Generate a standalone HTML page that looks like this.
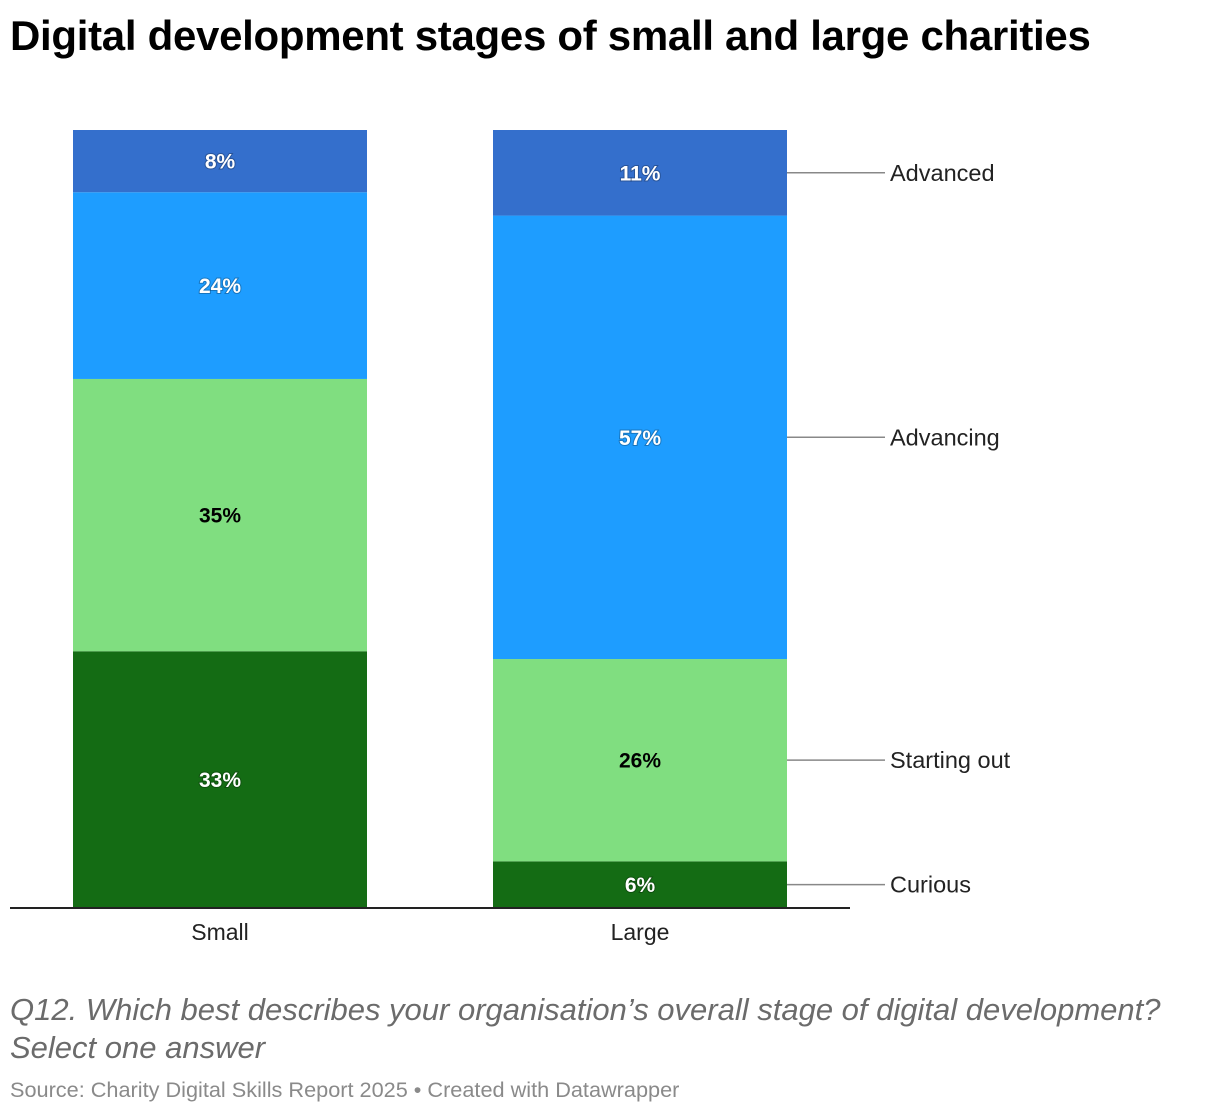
<!DOCTYPE html>
<html><head><meta charset="utf-8"><style>
body{margin:0;background:#fff;font-family:"Liberation Sans",Arial,sans-serif;}
.wrap{position:relative;width:1220px;height:1114px;overflow:hidden;}
h1{position:absolute;left:10px;top:12px;margin:0;font-size:42px;font-weight:bold;color:#000;letter-spacing:-0.3px;}
.q{position:absolute;left:10px;top:991px;font-size:31px;font-style:italic;color:#6b6b6b;line-height:38px;}
.src{position:absolute;left:10px;top:1077px;font-size:21.7px;color:#8a8a8a;}
</style></head><body><div class="wrap">
<h1>Digital development stages of small and large charities</h1>
<svg id="c" width="1220" height="1114" style="position:absolute;left:0;top:0"></svg>
<div class="q">Q12. Which best describes your organisation’s overall stage of digital development?<br>Select one answer</div>
<div class="src">Source: Charity Digital Skills Report 2025 • Created with Datawrapper</div>
</div>
<script>
const categories=["Small","Large"];
const stages=["Curious","Starting out","Advancing","Advanced"];
const curious=[33,6];
const startingOut=[35,26];
const advancing=[24,57];
const advanced=[8,11];
const series=[curious,startingOut,advancing,advanced];
const colors=["#146c14","#80de80","#1e9dff","#346fcc"];
const textColors=["#fff","#000","#fff","#fff"];
const NS="http://www.w3.org/2000/svg";
const svg=document.getElementById('c');
const y0=908,y1=130,barW=294,xs=[73,493];
const y=v=>y0-(y0-y1)*v/100;
function mk(t,a){const e=document.createElementNS(NS,t);for(const k in a)e.setAttribute(k,a[k]);svg.appendChild(e);return e;}
categories.forEach((cat,i)=>{
  let cum=0;
  series.forEach((s,j)=>{
    const v=s[i];const top=y(cum+v),bot=y(cum);
    const r=mk('rect',{x:xs[i],y:top,width:barW,height:bot-top,fill:colors[j]});
    
    
    const t=mk('text',{x:xs[i]+barW/2,y:(top+bot)/2+7.5,'text-anchor':'middle','font-size':'21','font-weight':'bold',fill:textColors[j]});
    if(textColors[j]==="#fff")t.setAttribute('style','paint-order:stroke;stroke:rgba(0,0,0,0.25);stroke-width:2px');
    t.textContent=v+'%';
    
    
    if(i===1){
      const ym=(top+bot)/2;
      const l=mk('line',{x1:xs[i]+barW,x2:885,y1:ym,y2:ym,stroke:'#888','stroke-width':1.5});
      
      
      const lt=mk('text',{x:890,y:ym+8,'font-size':'23.5',fill:'#222'});
      lt.textContent=stages[j];
      
      
    }
    cum+=v;
  });
  const ct=mk('text',{x:xs[i]+barW/2,y:940,'text-anchor':'middle','font-size':'23','fill':'#222'});
  ct.textContent=cat;
  
  
});
const ax=mk('line',{x1:10,x2:850,y1:908,y2:908,stroke:'#222','stroke-width':2});


</script></body></html>
